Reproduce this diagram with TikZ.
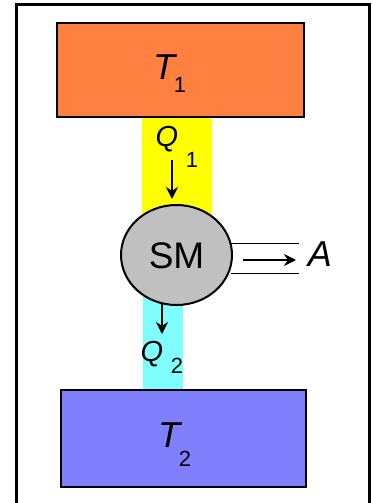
\documentclass[tikz,border=0pt]{standalone}
\usepackage{fontspec}
\setmainfont{Liberation Sans}
\usetikzlibrary{shapes.geometric,arrows.meta}
\definecolor{hot}{RGB}{255,128,64}
\definecolor{cold}{RGB}{128,128,255}
\definecolor{bandA}{RGB}{255,255,0}
\definecolor{bandB}{RGB}{128,255,255}
\definecolor{engine}{RGB}{192,192,192}
\begin{document}
\begin{tikzpicture}[x=1pt,y=-1pt,
  reservoir/.style={draw=black,line width=2pt,rectangle,inner sep=0pt},
  band/.style={draw=none,rectangle,inner sep=0pt},
  big/.style={inner sep=0pt,font=\fontsize{36}{36}\selectfont\itshape},
  qlab/.style={inner sep=0pt,font=\fontsize{29}{29}\selectfont\itshape},
  sub/.style={inner sep=0pt,font=\fontsize{22}{22}\selectfont},
  flow/.style={line width=2.5pt,-{Stealth[length=12pt,width=12pt]}},
  rail/.style={line width=1pt}]
\useasboundingbox (0,0) rectangle (372,503);
\draw[line width=3pt] (16.7,510) -- (16.7,4.3) -- (369.5,4.3) -- (369.5,510);
% bands
\node[band,fill=bandA,minimum width=70pt,minimum height=100pt] (b1) at (177,166) {};
\node[band,fill=bandB,minimum width=40pt,minimum height=95pt] (b2) at (163,342.5) {};
% reservoirs
\node[reservoir,fill=hot,minimum width=247pt,minimum height=94pt] (hot) at (180.5,70) {};
\node[reservoir,fill=cold,minimum width=245pt,minimum height=97pt] (cold) at (183.5,438.5) {};
% engine
\node[ellipse,draw=black,line width=2pt,fill=engine,minimum width=111pt,minimum height=100pt,inner sep=0pt] (sm) at (176.5,255) {};
\node[inner sep=0pt,font=\fontsize{37}{37}\selectfont] (smt) at (176.5,256) {SM};
% labels
\node[big] (t1) at (164,67) {T};
\node[sub] (t1s) at (180,85) {1};
\node[big] (t2) at (169,435) {T};
\node[sub] (t2s) at (185,459) {2};
\node[qlab] (q1) at (167,139) {Q};
\node[sub] (q1s) at (192,160) {1};
\node[qlab] (q2) at (152,354) {Q};
\node[sub] (q2s) at (177,366) {2};
\node[big] (a) at (320,254) {A};
% arrows
\coordinate (q1a) at (172,160);
\coordinate (q1b) at (172,199);
\draw[flow] (q1a) -- (q1b);
\coordinate (q2a) at (162,303);
\coordinate (q2b) at (162,334);
\draw[flow] (q2a) -- (q2b);
\coordinate (r1a) at (231,243);
\coordinate (r1b) at (299,243);
\coordinate (r2a) at (231,273);
\coordinate (r2b) at (299,273);
\draw[rail] (r1a) -- (r1b);
\draw[rail] (r2a) -- (r2b);
\coordinate (wa) at (243,260);
\coordinate (wb) at (296,260);
\draw[flow] (wa) -- (wb);
\end{tikzpicture}
\end{document}
